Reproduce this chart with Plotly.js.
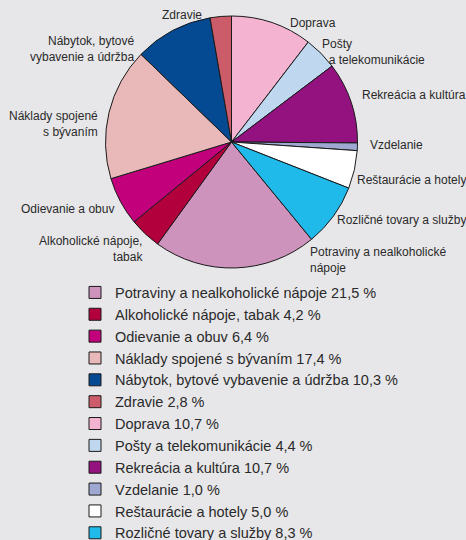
<!DOCTYPE html>
<html>
<head>
<meta charset="utf-8">
<script src="https://cdn.plot.ly/plotly-3.0.1.min.js"></script>
<style>
  html, body { margin: 0; padding: 0; background: #e7e7e9; overflow: hidden; }
  #frame { width: 466px; height: 540px; overflow: hidden; position: relative; }
  #chart { width: 466px; height: 552px; }
</style>
</head>
<body>
<div id="frame"><div id="chart"></div></div>
<script>
// ---- data ----
const categories = [
  "Potraviny a nealkoholické nápoje",
  "Alkoholické nápoje, tabak",
  "Odievanie a obuv",
  "Náklady spojené s bývaním",
  "Nábytok, bytové vybavenie a údržba",
  "Zdravie",
  "Doprava",
  "Pošty a telekomunikácie",
  "Rekreácia a kultúra",
  "Vzdelanie",
  "Reštaurácie a hotely",
  "Rozličné tovary a služby"
];
const shares = [21.5, 4.2, 6.4, 17.4, 10.3, 2.8, 10.7, 4.4, 10.7, 1.0, 5.0, 8.3];
const sliceLabels = [
  "Potraviny a nealkoholické<br>nápoje",
  "Alkoholické nápoje,<br>tabak",
  "Odievanie a obuv",
  "Náklady spojené<br>s bývaním",
  "Nábytok, bytové<br>vybavenie a údržba",
  "Zdravie",
  "Doprava",
  "Pošty<br>\u00a0\u00a0a telekomunikácie",
  "Rekreácia a kultúra",
  "Vzdelanie",
  "Reštaurácie a hotely",
  "Rozličné tovary a služby"
];
const colors = ["#ce93bd", "#b1003b", "#c3007b", "#e8b9b8", "#034a92", "#cc5c6a",
                "#f4b3d0", "#c0d8ef", "#931280", "#9fa8d0", "#ffffff", "#1fbae9"];
// slice index drawn starting at 12 o'clock, clockwise
const topSlice = 6;

// ---- layout constants (style) ----
// the figure is a little taller than the 540px frame: the legend runs off the bottom edge as in the original
const W = 466, H = 552;
const cx = 231.5, cy = 142, R = 126;
// label placement: anchor side + pixel nudges from each slice's outer-edge midpoint
const labelAlign = ["left","right","right","right","right","right","left","left","left","left","left","left"];
const labelShift = [[75,7.5],[-2,-15],[-6,-8],[-11,-12],[-39,-18.5],[-19,1.5],[18,0],[1,1],[10.5,7],[12.6,1.8],[2.5,-10],[3.5,-4]];

const total = shares.reduce((a, b) => a + b, 0);
let before = 0;
for (let i = 0; i < topSlice; i++) before += shares[i];
const rotation = 360 - before / total * 360;

const fmt = v => v.toFixed(1).replace(".", ",") + " %";
const legendNames = categories.map((c, i) => c + " " + fmt(shares[i]));

const annotations = [];
let cum = 0;
shares.forEach((v, i) => {
  const mid = (rotation + (cum + v / 2) / total * 360) * Math.PI / 180;
  cum += v;
  const px = cx + R * Math.sin(mid);
  const py = cy - R * Math.cos(mid);
  annotations.push({
    x: px / W, y: 1 - py / H, xref: "paper", yref: "paper",
    text: sliceLabels[i], showarrow: false,
    xanchor: labelAlign[i], yanchor: "middle", align: labelAlign[i],
    xshift: labelShift[i][0], yshift: labelShift[i][1],
    borderpad: 0, borderwidth: 0,
    font: { family: "Liberation Sans, Arial, sans-serif", size: 12, color: "#2a2a2a" }
  });
});

const trace = {
  type: "pie",
  labels: legendNames,
  values: shares,
  sort: false,
  direction: "clockwise",
  rotation: rotation,
  textinfo: "none",
  hoverinfo: "label",
  marker: { colors: colors, line: { color: "#1a1a1a", width: 1 } },
  domain: { x: [(cx - R) / W, (cx + R) / W], y: [1 - (cy + R) / H, 1 - (cy - R) / H] }
};

const layout = {
  width: W, height: H,
  margin: { l: 0, r: 0, t: 0, b: 0 },
  paper_bgcolor: "#e7e7e9",
  plot_bgcolor: "#e7e7e9",
  showlegend: true,
  legend: {
    x: 75 / W, xanchor: "left",
    y: 1 - 276.5 / H, yanchor: "top",
    font: { family: "Liberation Sans, Arial, sans-serif", size: 14.5, color: "#2a2a2a" },
    bgcolor: "rgba(0,0,0,0)",
    traceorder: "normal"
  },
  annotations: annotations
};

Plotly.newPlot("chart", [trace], layout, { displayModeBar: false, staticPlot: true });
</script>
</body>
</html>
